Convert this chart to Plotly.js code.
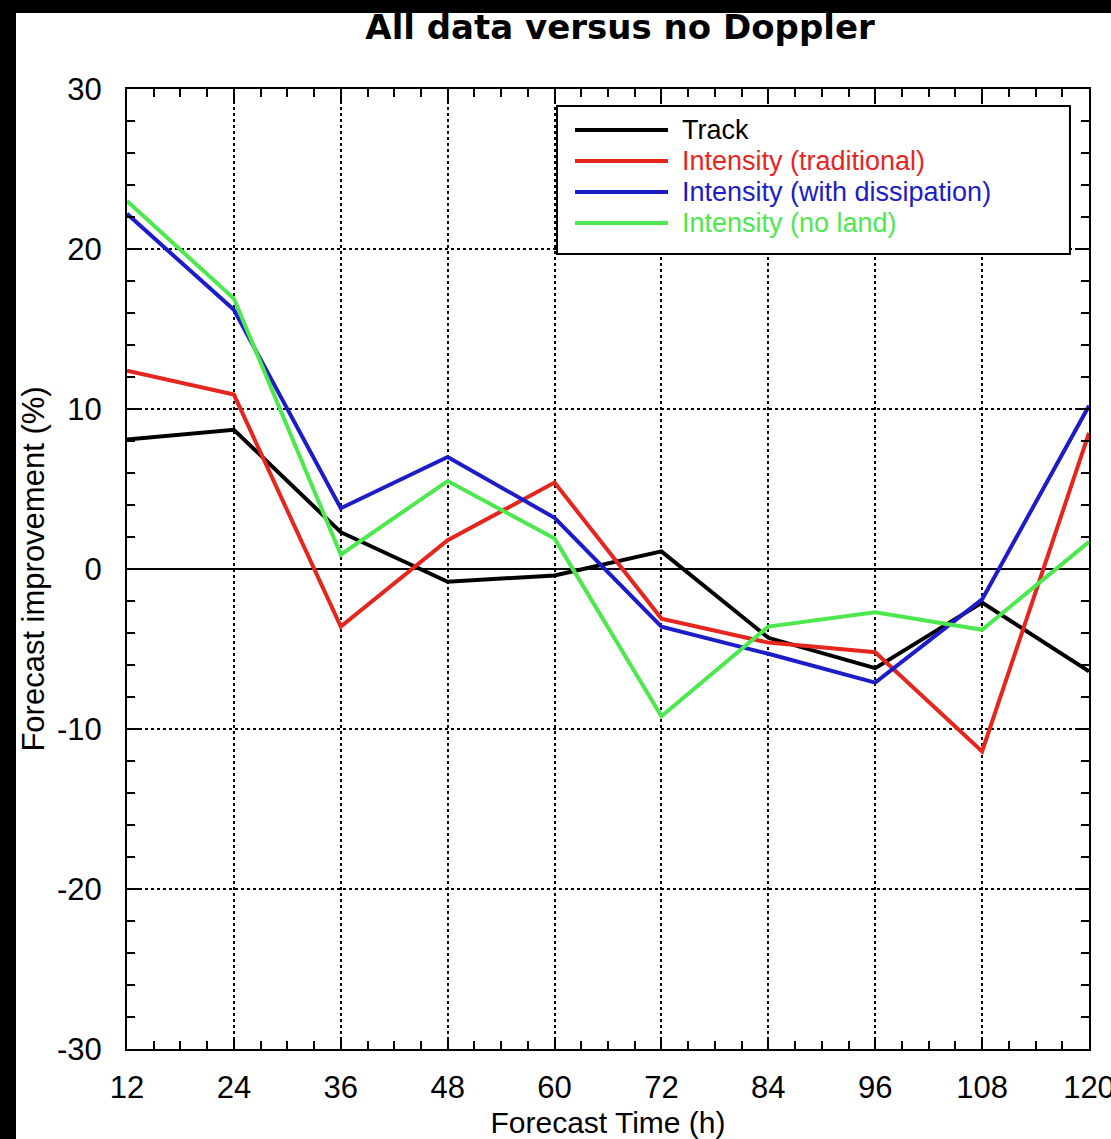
<!DOCTYPE html>
<html>
<head>
<meta charset="utf-8">
<script src="https://cdn.plot.ly/plotly-3.0.1.min.js"></script>
<style>
  html, body { margin: 0; padding: 0; background: #ffffff; overflow: hidden; }
  #chart { position: absolute; left: 0; top: 0; width: 1111px; height: 1139px; }
  .frame { position: absolute; background: #000000; }
</style>
</head>
<body>
<div id="chart"></div>
<div class="frame" style="left:0;top:0;width:1111px;height:13px"></div>
<div class="frame" style="left:0;top:0;width:16px;height:1139px"></div>
<script>
// Forecast lead times (hours)
const forecastHours = [12, 24, 36, 48, 60, 72, 84, 96, 108, 120];

// Forecast improvement (%) of all data relative to the no-Doppler run
const track                = [8.1, 8.7, 2.3, -0.8, -0.4, 1.1, -4.3, -6.2, -2.1, -6.4];
const intensityTraditional = [12.4, 10.9, -3.6, 1.8, 5.4, -3.1, -4.6, -5.2, -11.4, 8.5];
const intensityDissipation = [22.2, 16.2, 3.8, 7.0, 3.2, -3.6, -5.3, -7.1, -1.9, 10.2];
const intensityNoLand      = [23.0, 16.9, 0.9, 5.5, 1.9, -9.2, -3.6, -2.7, -3.8, 1.7];

const seriesNames  = ['Track', 'Intensity (traditional)', 'Intensity (with dissipation)', 'Intensity (no land)'];
const seriesValues = [track, intensityTraditional, intensityDissipation, intensityNoLand];
const seriesColors = ['#000000', '#e5261f', '#1c1cc8', '#4de84d'];

const xTickVals = [12, 24, 36, 48, 60, 72, 84, 96, 108, 120];
const yTickVals = [-30, -20, -10, 0, 10, 20, 30];

const traces = seriesNames.map((name, i) => ({
  x: forecastHours,
  y: seriesValues[i],
  name: name,
  type: 'scatter',
  mode: 'lines',
  line: { color: seriesColors[i], width: 4 },
  showlegend: false
}));

// Boxed key in the upper right of the plotting area
const keyBox = { x0: 0.447, x1: 0.9802, y0: 0.8281, y1: 0.9823 };
const keyRows = [0.9573, 0.9250, 0.8927, 0.8604];
const keySample = { x0: 0.4657, x1: 0.5624 };
const keyTextX = 0.5748;

const shapes = [{
  type: 'rect', xref: 'paper', yref: 'paper',
  x0: keyBox.x0, x1: keyBox.x1, y0: keyBox.y0, y1: keyBox.y1,
  line: { color: '#000000', width: 2 }, fillcolor: '#ffffff', layer: 'above'
}];
const annotations = [];
seriesNames.forEach((name, i) => {
  shapes.push({
    type: 'line', xref: 'paper', yref: 'paper',
    x0: keySample.x0, x1: keySample.x1, y0: keyRows[i], y1: keyRows[i],
    line: { color: seriesColors[i], width: 4 }, layer: 'above'
  });
  annotations.push({
    xref: 'paper', yref: 'paper', x: keyTextX, y: keyRows[i],
    xanchor: 'left', yanchor: 'middle', showarrow: false,
    text: name,
    font: { family: 'Liberation Sans, Arial, sans-serif', size: 27, color: seriesColors[i] }
  });
});

const baseFont = { family: 'Liberation Sans, Arial, sans-serif', size: 31, color: '#000000' };

const layout = {
  width: 1111,
  height: 1139,
  margin: { l: 127, r: 22, t: 89, b: 90, pad: 0 },
  paper_bgcolor: '#ffffff',
  plot_bgcolor: '#ffffff',
  font: baseFont,
  title: {
    text: 'All data versus no Doppler',
    font: { family: 'DejaVu Sans, sans-serif', size: 34, weight: 'bold', color: '#000000' },
    xref: 'paper', x: 0.5125, xanchor: 'center',
    yref: 'container', y: 0.9762, yanchor: 'middle'
  },
  xaxis: {
    range: [12, 120],
    tickmode: 'array', tickvals: xTickVals, ticktext: xTickVals.map(String),
    ticks: 'inside', ticklen: 12, tickwidth: 2, tickcolor: '#000000',
    minor: { dtick: 3, tick0: 12, ticks: 'inside', ticklen: 8, tickwidth: 2, tickcolor: '#000000', showgrid: false },
    showline: true, linecolor: '#000000', linewidth: 2, mirror: 'allticks',
    showgrid: true, gridcolor: '#000000', gridwidth: 2, griddash: 'dot',
    zeroline: false,
    ticklabelstandoff: 10,
    ticklabeloverflow: 'allow',
    tickfont: baseFont,
    title: { text: 'Forecast Time (h)', font: { family: 'Liberation Sans, Arial, sans-serif', size: 30, color: '#000000' }, standoff: 8 },
    automargin: false,
    fixedrange: true
  },
  yaxis: {
    range: [-30, 30],
    tickmode: 'array', tickvals: yTickVals, ticktext: yTickVals.map(String),
    ticks: 'inside', ticklen: 12, tickwidth: 2, tickcolor: '#000000',
    minor: { dtick: 2, tick0: 0, ticks: 'inside', ticklen: 8, tickwidth: 2, tickcolor: '#000000', showgrid: false },
    showline: true, linecolor: '#000000', linewidth: 2, mirror: 'allticks',
    showgrid: true, gridcolor: '#000000', gridwidth: 2, griddash: 'dot',
    zeroline: true, zerolinecolor: '#000000', zerolinewidth: 2,
    ticklabelstandoff: 17,
    tickfont: baseFont,
    title: { text: 'Forecast improvement (%)', font: { family: 'Liberation Sans, Arial, sans-serif', size: 31, color: '#000000' }, standoff: 3 },
    automargin: false,
    fixedrange: true
  },
  shapes: shapes,
  annotations: annotations,
  showlegend: false
};

Plotly.newPlot('chart', traces, layout, { staticPlot: true, displayModeBar: false });
</script>
</body>
</html>
